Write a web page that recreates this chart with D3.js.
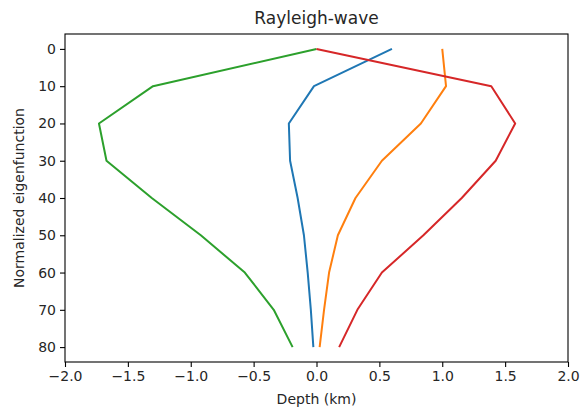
<!DOCTYPE html>
<html>
<head>
<meta charset="utf-8">
<script src="https://cdn.jsdelivr.net/npm/d3@7"></script>
<style>
  html, body { margin: 0; padding: 0; background: #fff; }
  text { font-family: "DejaVu Sans", sans-serif; fill: #262626; }
</style>
</head>
<body>
<svg id="chart" width="580" height="410"></svg>
<script>
// Depth samples (km) shared by every eigenfunction curve
const depths = [0, 10, 20, 30, 40, 50, 60, 70, 80];

// Eigenfunction amplitudes at each depth
const seriesBlue   = [0.60, -0.02, -0.22, -0.21, -0.15, -0.10, -0.07, -0.045, -0.025];
const seriesOrange = [1.00, 1.03, 0.83, 0.52, 0.31, 0.17, 0.10, 0.06, 0.025];
const seriesGreen  = [0.00, -1.30, -1.73, -1.67, -1.31, -0.92, -0.57, -0.34, -0.19];
const seriesRed    = [0.00, 1.39, 1.58, 1.425, 1.155, 0.85, 0.52, 0.325, 0.18];

const xTicks = [-2.0, -1.5, -1.0, -0.5, 0.0, 0.5, 1.0, 1.5, 2.0];
const yTicks = [0, 10, 20, 30, 40, 50, 60, 70, 80];

const colors = ["#1f77b4", "#ff7f0e", "#2ca02c", "#d62728"];
const allSeries = [seriesBlue, seriesOrange, seriesGreen, seriesRed];

const margin = { left: 65, right: 12, top: 34, bottom: 48 };
const W = 580, H = 410;
const svg = d3.select("#chart");

const x = d3.scaleLinear().domain([-2, 2]).range([margin.left, W - margin.right]);
const y = d3.scaleLinear().domain([-4, 84]).range([margin.top, H - margin.bottom]);

const fmt = d => d3.format(".1f")(d).replace("-", "\u2212");

// Curves
const line = d3.line().x(d => x(d[0])).y(d => y(d[1]));
allSeries.forEach((s, i) => {
  svg.append("path")
    .datum(s.map((v, j) => [v, depths[j]]))
    .attr("d", line)
    .attr("fill", "none")
    .attr("stroke", colors[i])
    .attr("stroke-width", 2)
    .attr("stroke-linejoin", "round")
    .attr("stroke-linecap", "butt");
});

// Axes
const xAxis = d3.axisBottom(x).tickValues(xTicks).tickFormat(fmt).tickSize(5).tickPadding(4);
const yAxis = d3.axisLeft(y).tickValues(yTicks).tickFormat(d3.format("d")).tickSize(5).tickPadding(4);

const gx = svg.append("g").attr("transform", `translate(0,${H - margin.bottom})`).call(xAxis);
const gy = svg.append("g").attr("transform", `translate(${margin.left},0)`).call(yAxis);
[gx, gy].forEach(g => {
  g.select(".domain").remove();
  g.selectAll(".tick line").attr("stroke", "#000").attr("stroke-width", 1.1);
  g.selectAll(".tick text").attr("font-size", 14).attr("font-family", "DejaVu Sans").attr("fill", "#262626");
});

// Frame
svg.append("rect")
  .attr("x", margin.left).attr("y", margin.top)
  .attr("width", W - margin.right - margin.left)
  .attr("height", H - margin.bottom - margin.top)
  .attr("fill", "none").attr("stroke", "#000").attr("stroke-width", 1.1);

// Labels
svg.append("text")
  .attr("x", (margin.left + W - margin.right) / 2).attr("y", 24)
  .attr("text-anchor", "middle").attr("font-size", 17)
  .text("Rayleigh-wave");

svg.append("text")
  .attr("x", (margin.left + W - margin.right) / 2).attr("y", 404)
  .attr("text-anchor", "middle").attr("font-size", 14)
  .text("Depth (km)");

svg.append("text")
  .attr("transform", `translate(24,${(margin.top + H - margin.bottom) / 2}) rotate(-90)`)
  .attr("text-anchor", "middle").attr("font-size", 14)
  .text("Normalized eigenfunction");
</script>
</body>
</html>
